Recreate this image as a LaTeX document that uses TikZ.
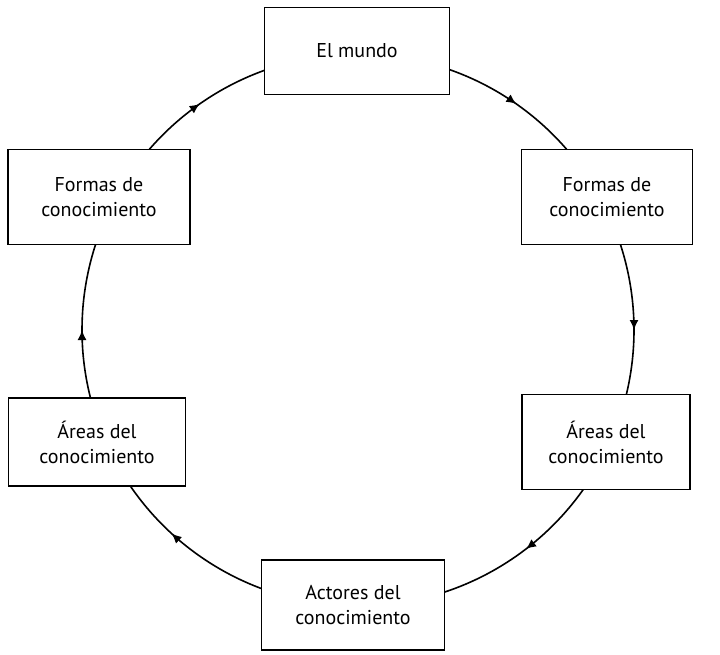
\documentclass[tikz,border=0pt]{standalone}
\usepackage{fontspec}
\setmainfont{PT Sans}
\usetikzlibrary{arrows.meta,decorations.markings}
\begin{document}
\begin{tikzpicture}[x=1pt,y=1pt,
    box/.style={draw,fill=white,line width=1.2pt,align=center,font=\fontsize{20}{25}\selectfont},
    cycle/.style={line width=1.6pt,postaction={decorate},decoration={markings,
        mark=at position 0.5 with {\arrow{Latex[length=10pt,width=9pt]}}}}]
    \useasboundingbox (0,0) rectangle (720,-655);
    \coordinate (c) at (358,-330);
    % the cycle, clockwise
    \foreach \a/\b in {75/35, 25/-25, -33/-72, -110/-155, 200/160, 145/105}
        \draw[cycle] (c) ++(\a:276) arc[start angle=\a, end angle=\b, radius=276];
    % boxes
    \node[box,minimum width=185,minimum height=87] (mundo) at (357,-51) {El mundo};
    \node[box,minimum width=171,minimum height=95] (formasd) at (607,-197) {Formas de\\conocimiento};
    \node[box,minimum width=168,minimum height=95] (areasd) at (606,-442) {Áreas del\\conocimiento};
    \node[box,minimum width=183,minimum height=90] (actores) at (353,-605) {Actores del\\conocimiento};
    \node[box,minimum width=177,minimum height=88] (areasi) at (97,-442) {Áreas del\\conocimiento};
    \node[box,minimum width=182,minimum height=95] (formasi) at (99,-197) {Formas de\\conocimiento};
\end{tikzpicture}
\end{document}
